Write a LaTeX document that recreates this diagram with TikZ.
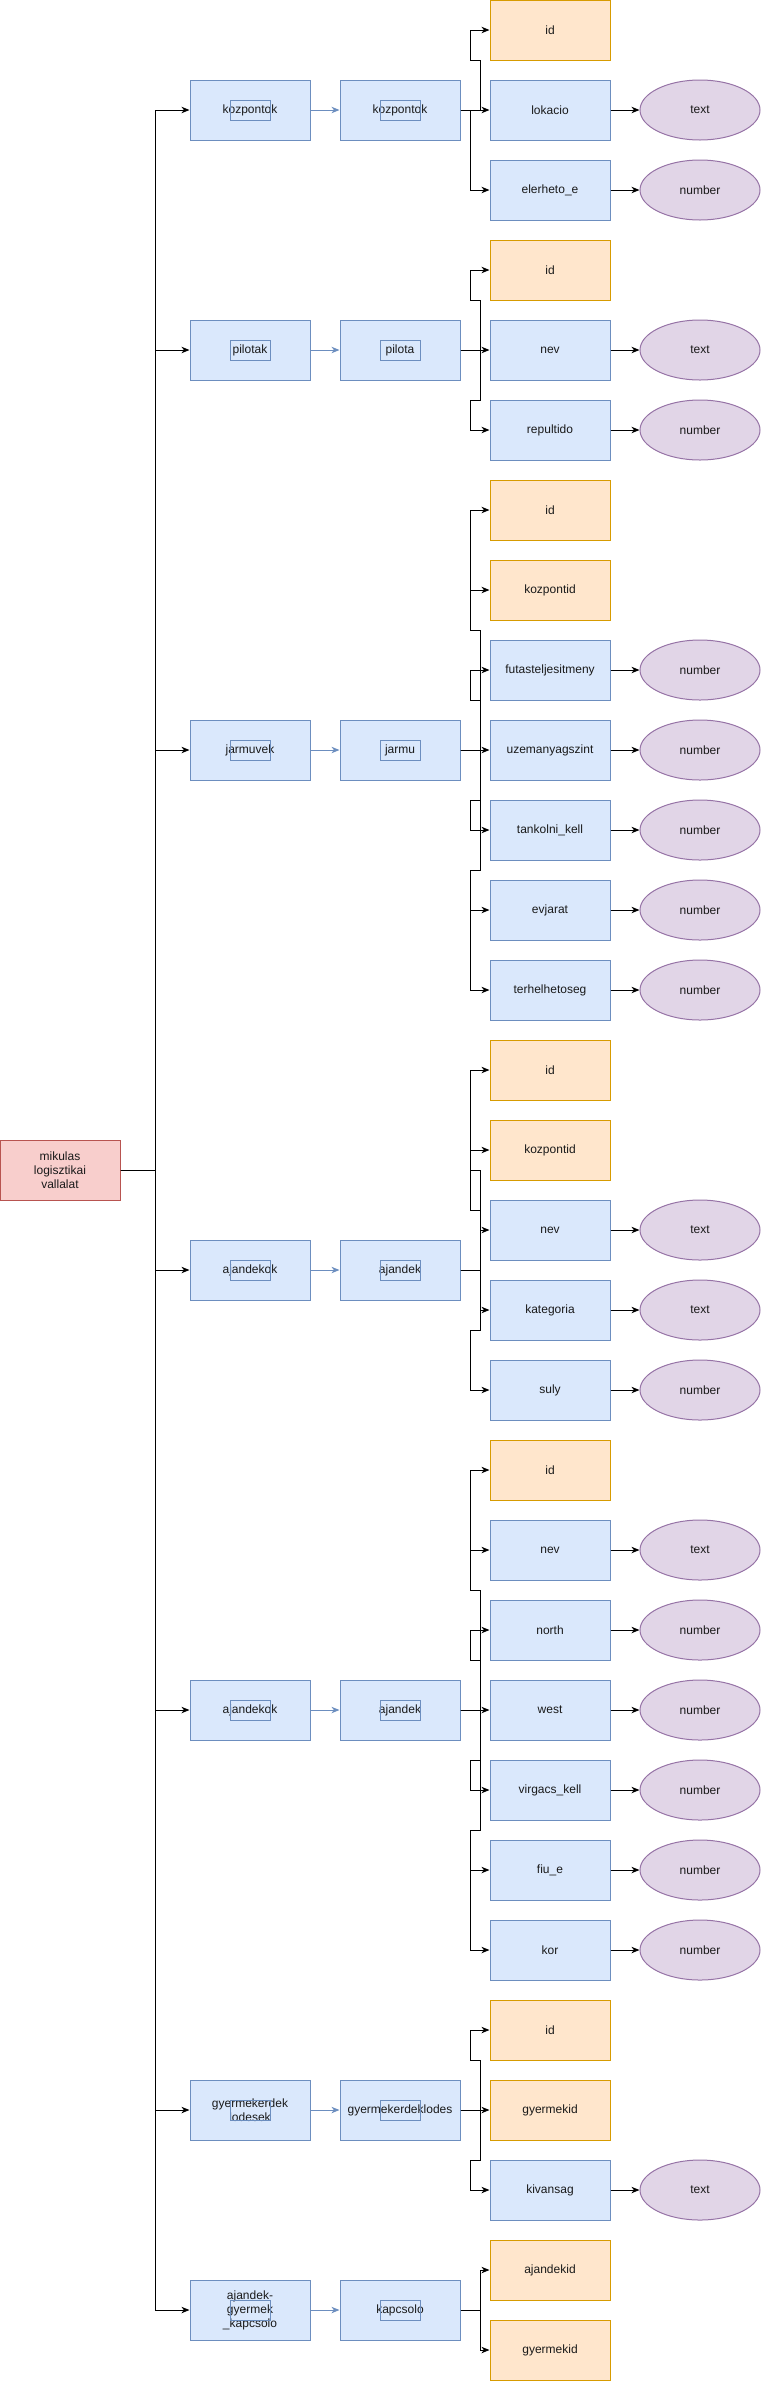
\documentclass[tikz,border=0pt]{standalone}
\usepackage{fontspec}
\setmainfont{Liberation Sans}
\usetikzlibrary{arrows.meta,shapes.geometric}
\definecolor{blueF}{HTML}{DAE8FC}
\definecolor{blueS}{HTML}{6C8EBF}
\definecolor{orF}{HTML}{FFE6CC}
\definecolor{orS}{HTML}{D79B00}
\definecolor{puF}{HTML}{E1D5E7}
\definecolor{puS}{HTML}{9673A6}
\definecolor{reF}{HTML}{F8CECC}
\definecolor{reS}{HTML}{B85450}
\definecolor{txt}{HTML}{1A1A1A}
\tikzset{
  lbl/.style={font=\fontsize{9}{10.5}\selectfont, align=center, text=txt, inner sep=0pt},
  ent/.style={lbl, rectangle, draw=blueS, fill=blueF, line width=0.75pt, minimum width=90pt, minimum height=45pt},
  attr/.style={ent},
  keyattr/.style={lbl, rectangle, draw=orS, fill=orF, line width=0.75pt, minimum width=90pt, minimum height=45pt},
  dtype/.style={lbl, ellipse, draw=puS, fill=puF, line width=0.75pt, minimum width=90pt, minimum height=45pt},
  rootbox/.style={lbl, rectangle, draw=reS, fill=reF, line width=0.75pt, minimum width=90pt, minimum height=45pt},
  tag/.style={rectangle, draw=blueS, line width=0.75pt, minimum width=30pt, minimum height=15pt, inner sep=0pt},
  conn/.style={line width=0.75pt, draw=black, -{Stealth[length=6pt,width=4.8pt,inset=1.8pt]}},
  bconn/.style={conn, draw=blueS},
}
\begin{document}
\begin{tikzpicture}[x=0.75pt,y=-0.75pt]
\useasboundingbox (0,0) rectangle (761,2381);

% root and trunk
\node[rootbox] (root) at (60,1170) {mikulas\\logisztikai\\vallalat};
\coordinate (trunk) at (155,1170);

% ---------- group 1
\node[ent] (e1) at (250,110) {kozpontok};
\node[ent] (t1) at (400,110) {kozpontok};
\node[tag] (e1tag) at (250,110) {};
\node[tag] (t1tag) at (400,110) {};
\node[keyattr] (g1id) at (550,30) {id};
\node[attr] (g1lok) at (550,110) {lokacio};
\node[attr] (g1ele) at (550,190) {elerheto\_e};
\node[dtype] (g1lokT) at (700,110) {text};
\node[dtype] (g1eleT) at (700,190) {number};
\draw[conn] (root.east) -- (trunk) |- (e1.west);
\draw[bconn] (e1.east) -- (t1.west);
\draw[conn] (t1.east) -- (480,110) |- (470,60) |- (g1id.west);
\draw[conn] (t1.east) -- (g1lok.west);
\draw[conn] (t1.east) -- (470,110) |- (g1ele.west);
\draw[conn] (g1lok.east) -- (g1lokT.west);
\draw[conn] (g1ele.east) -- (g1eleT.west);

% ---------- group 2
\node[ent] (e2) at (250,350) {pilotak};
\node[ent] (t2) at (400,350) {pilota};
\node[tag] (e2tag) at (250,350) {};
\node[tag] (t2tag) at (400,350) {};
\node[keyattr] (g2id) at (550,270) {id};
\node[attr] (g2nev) at (550,350) {nev};
\node[attr] (g2rep) at (550,430) {repultido};
\node[dtype] (g2nevT) at (700,350) {text};
\node[dtype] (g2repT) at (700,430) {number};
\draw[conn] (root.east) -- (trunk) |- (e2.west);
\draw[bconn] (e2.east) -- (t2.west);
\draw[conn] (t2.east) -- (480,350) |- (470,300) |- (g2id.west);
\draw[conn] (t2.east) -- (g2nev.west);
\draw[conn] (t2.east) -- (480,350) |- (470,400) |- (g2rep.west);
\draw[conn] (g2nev.east) -- (g2nevT.west);
\draw[conn] (g2rep.east) -- (g2repT.west);

% ---------- group 3
\node[ent] (e3) at (250,750) {jarmuvek};
\node[ent] (t3) at (400,750) {jarmu};
\node[tag] (e3tag) at (250,750) {};
\node[tag] (t3tag) at (400,750) {};
\node[keyattr] (g3id) at (550,510) {id};
\node[keyattr] (g3kid) at (550,590) {kozpontid};
\node[attr] (g3fut) at (550,670) {futasteljesitmeny};
\node[attr] (g3uze) at (550,750) {uzemanyagszint};
\node[attr] (g3tan) at (550,830) {tankolni\_kell};
\node[attr] (g3evj) at (550,910) {evjarat};
\node[attr] (g3ter) at (550,990) {terhelhetoseg};
\node[dtype] (g3futT) at (700,670) {number};
\node[dtype] (g3uzeT) at (700,750) {number};
\node[dtype] (g3tanT) at (700,830) {number};
\node[dtype] (g3evjT) at (700,910) {number};
\node[dtype] (g3terT) at (700,990) {number};
\draw[conn] (root.east) -- (trunk) |- (e3.west);
\draw[bconn] (e3.east) -- (t3.west);
\draw[conn] (t3.east) -- (480,750) |- (470,630) |- (g3id.west);
\draw[conn] (t3.east) -- (480,750) |- (470,630) |- (g3kid.west);
\draw[conn] (t3.east) -- (480,750) |- (470,700) |- (g3fut.west);
\draw[conn] (t3.east) -- (g3uze.west);
\draw[conn] (t3.east) -- (480,750) |- (470,800) |- (g3tan.west);
\draw[conn] (t3.east) -- (480,750) |- (470,870) |- (g3evj.west);
\draw[conn] (t3.east) -- (480,750) |- (470,870) |- (g3ter.west);
\draw[conn] (g3fut.east) -- (g3futT.west);
\draw[conn] (g3uze.east) -- (g3uzeT.west);
\draw[conn] (g3tan.east) -- (g3tanT.west);
\draw[conn] (g3evj.east) -- (g3evjT.west);
\draw[conn] (g3ter.east) -- (g3terT.west);

% ---------- group 4
\node[ent] (e4) at (250,1270) {ajandekok};
\node[ent] (t4) at (400,1270) {ajandek};
\node[tag] (e4tag) at (250,1270) {};
\node[tag] (t4tag) at (400,1270) {};
\node[keyattr] (g4id) at (550,1070) {id};
\node[keyattr] (g4kid) at (550,1150) {kozpontid};
\node[attr] (g4nev) at (550,1230) {nev};
\node[attr] (g4kat) at (550,1310) {kategoria};
\node[attr] (g4sul) at (550,1390) {suly};
\node[dtype] (g4nevT) at (700,1230) {text};
\node[dtype] (g4katT) at (700,1310) {text};
\node[dtype] (g4sulT) at (700,1390) {number};
\draw[conn] (root.east) -- (trunk) |- (e4.west);
\draw[bconn] (e4.east) -- (t4.west);
\draw[conn] (t4.east) -- (480,1270) |- (470,1170) |- (g4id.west);
\draw[conn] (t4.east) -- (480,1270) |- (470,1210) |- (g4kid.west);
\draw[conn] (t4.east) -- (480,1270) |- (g4nev.west);
\draw[conn] (t4.east) -- (480,1270) |- (g4kat.west);
\draw[conn] (t4.east) -- (480,1270) |- (470,1330) |- (g4sul.west);
\draw[conn] (g4nev.east) -- (g4nevT.west);
\draw[conn] (g4kat.east) -- (g4katT.west);
\draw[conn] (g4sul.east) -- (g4sulT.west);

% ---------- group 5
\node[ent] (e5) at (250,1710) {ajandekok};
\node[ent] (t5) at (400,1710) {ajandek};
\node[tag] (e5tag) at (250,1710) {};
\node[tag] (t5tag) at (400,1710) {};
\node[keyattr] (g5id) at (550,1470) {id};
\node[attr] (g5nev) at (550,1550) {nev};
\node[attr] (g5nor) at (550,1630) {north};
\node[attr] (g5wes) at (550,1710) {west};
\node[attr] (g5vir) at (550,1790) {virgacs\_kell};
\node[attr] (g5fiu) at (550,1870) {fiu\_e};
\node[attr] (g5kor) at (550,1950) {kor};
\node[dtype] (g5nevT) at (700,1550) {text};
\node[dtype] (g5norT) at (700,1630) {number};
\node[dtype] (g5wesT) at (700,1710) {number};
\node[dtype] (g5virT) at (700,1790) {number};
\node[dtype] (g5fiuT) at (700,1870) {number};
\node[dtype] (g5korT) at (700,1950) {number};
\draw[conn] (root.east) -- (trunk) |- (e5.west);
\draw[bconn] (e5.east) -- (t5.west);
\draw[conn] (t5.east) -- (480,1710) |- (470,1590) |- (g5id.west);
\draw[conn] (t5.east) -- (480,1710) |- (470,1590) |- (g5nev.west);
\draw[conn] (t5.east) -- (480,1710) |- (470,1660) |- (g5nor.west);
\draw[conn] (t5.east) -- (g5wes.west);
\draw[conn] (t5.east) -- (480,1710) |- (470,1760) |- (g5vir.west);
\draw[conn] (t5.east) -- (480,1710) |- (470,1830) |- (g5fiu.west);
\draw[conn] (t5.east) -- (480,1710) |- (470,1830) |- (g5kor.west);
\draw[conn] (g5nev.east) -- (g5nevT.west);
\draw[conn] (g5nor.east) -- (g5norT.west);
\draw[conn] (g5wes.east) -- (g5wesT.west);
\draw[conn] (g5vir.east) -- (g5virT.west);
\draw[conn] (g5fiu.east) -- (g5fiuT.west);
\draw[conn] (g5kor.east) -- (g5korT.west);

% ---------- group 6
\node[ent] (e6) at (250,2110) {gyermekerdek\\lodesek};
\node[ent] (t6) at (400,2110) {gyermekerdeklodes};
\node[tag] (e6tag) at (250,2110) {};
\node[tag] (t6tag) at (400,2110) {};
\node[keyattr] (g6id) at (550,2030) {id};
\node[keyattr] (g6gid) at (550,2110) {gyermekid};
\node[attr] (g6kiv) at (550,2190) {kivansag};
\node[dtype] (g6kivT) at (700,2190) {text};
\draw[conn] (root.east) -- (trunk) |- (e6.west);
\draw[bconn] (e6.east) -- (t6.west);
\draw[conn] (t6.east) -- (480,2110) |- (470,2060) |- (g6id.west);
\draw[conn] (t6.east) -- (g6gid.west);
\draw[conn] (t6.east) -- (480,2110) |- (470,2160) |- (g6kiv.west);
\draw[conn] (g6kiv.east) -- (g6kivT.west);

% ---------- group 7
\node[ent] (e7) at (250,2310) {ajandek-\\gyermek\\\_kapcsolo};
\node[ent] (t7) at (400,2310) {kapcsolo};
\node[tag] (e7tag) at (250,2310) {};
\node[tag] (t7tag) at (400,2310) {};
\node[keyattr] (g7aid) at (550,2270) {ajandekid};
\node[keyattr] (g7gid) at (550,2350) {gyermekid};
\draw[conn] (root.east) -- (trunk) |- (e7.west);
\draw[bconn] (e7.east) -- (t7.west);
\draw[conn] (t7.east) -- (480,2310) |- (g7aid.west);
\draw[conn] (t7.east) -- (480,2310) |- (g7gid.west);
\end{tikzpicture}
\end{document}
